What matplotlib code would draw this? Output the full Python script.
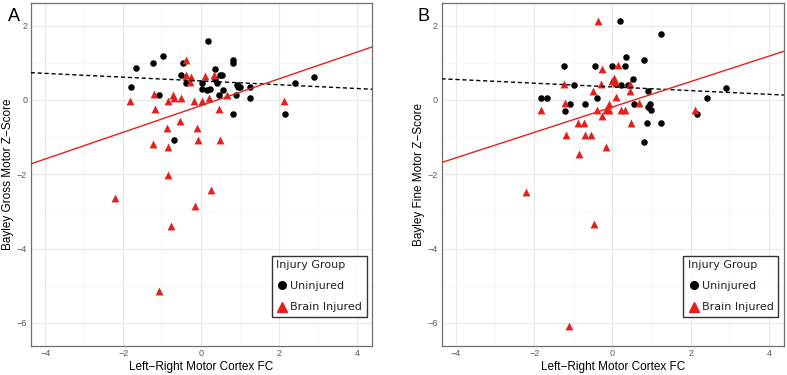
import numpy as np
import matplotlib.pyplot as plt
from matplotlib.lines import Line2D

# Panel A - gross motor
a_uninj_x = [-1.81, -1.68, -1.24, -0.98, -1.08, -0.46, -0.51, -0.39, 0.18, 0.01, 0.03, 0.14,
             0.22, 0.35, 0.35, 0.39, 0.48, 0.54, 0.45, 0.56, 0.80, 0.80, 0.91, 0.93, 1.00,
             0.88, 0.80, 1.25, 1.25, 2.15, 2.41, 2.90, -0.70]
a_uninj_y = [0.35, 0.87, 0.98, 1.18, 0.13, 0.98, 0.66, 0.46, 1.59, 0.46, 0.30, 0.27,
             0.30, 0.82, 0.55, 0.46, 0.66, 0.66, 0.13, 0.26, 1.08, 0.98, 0.39, 0.34, 0.34,
             0.13, -0.38, 0.35, 0.04, -0.38, 0.45, 0.61, -1.09]
a_inj_x = [-1.82, -1.21, -1.19, -0.86, -0.72, -0.70, -0.51, -0.38, -0.38, -0.30, -0.26, -0.19,
           0.02, 0.09, 0.33, 0.21, 0.67, 0.46, -0.54, -0.88, -0.10, -1.24, -0.84, -0.09,
           0.48, 2.11, -0.86, 0.26, -2.20, -0.15, -0.78, -1.09]
a_inj_y = [-0.04, 0.16, -0.25, -0.04, 0.14, 0.05, 0.06, 1.08, 0.68, 0.49, 0.61, -0.04,
           -0.04, 0.64, 0.66, 0.05, 0.14, -0.25, -0.56, -0.76, -0.76, -1.18, -1.27, -1.08,
           -1.08, -0.04, -2.01, -2.42, -2.64, -2.85, -3.38, -5.13]
a_fit_uninj = (-0.051, 0.51)   # slope, intercept
a_fit_inj = (0.36, -0.15)

# Panel B - fine motor
b_uninj_x = [0.19, 1.24, -1.25, -0.45, 0.00, 0.33, 0.34, 0.80, 0.01, 0.22, 0.39, 0.53,
             -0.99, -1.82, -1.67, -0.40, -1.22, -1.08, -0.69, 0.56, 0.91, 0.90, 0.96, 0.98,
             0.87, 1.25, 0.80, 2.16, 2.42, 2.91]
b_uninj_y = [2.11, 1.77, 0.91, 0.91, 0.91, 0.91, 1.16, 1.08, 0.49, 0.40, 0.40, 0.56,
             0.40, 0.06, 0.06, 0.06, -0.29, -0.12, -0.12, -0.12, 0.24, -0.18, -0.12, -0.27,
             -0.63, -0.63, -1.14, -0.38, 0.06, 0.31]
b_inj_x = [-0.38, -0.26, 0.13, 0.04, 0.00, 0.10, -0.30, -1.24, -0.51, 0.46, 0.46, 0.09,
           -0.10, 0.67, -1.21, -1.83, -0.40, -0.16, -0.10, 0.21, 0.33, -0.27, -0.88, -0.72,
           0.48, -1.18, -0.70, -0.55, -0.86, -0.16, 2.11, -2.20, -0.46, -1.10]
b_inj_y = [2.13, 0.84, 0.93, 0.58, 0.51, 0.45, 0.42, 0.42, 0.24, 0.42, 0.24, 0.07,
           -0.11, -0.09, -0.09, -0.27, -0.27, -0.27, -0.27, -0.27, -0.27, -0.44, -0.61, -0.61,
           -0.61, -0.94, -0.94, -0.94, -1.45, -1.28, -0.27, -2.49, -3.34, -6.08]
b_fit_uninj = (-0.050, 0.35)
b_fit_inj = (0.342, -0.19)

red = '#E3211C'
ticks = [-6, -4, -2, 0, 2]
xticks = [-4, -2, 0, 2, 4]

fig = plt.figure(figsize=(7.87, 3.75), dpi=100)


def panel(rect, ux, uy, ix, iy, fit_u, fit_i, ylab, letter, lx):
    ax = fig.add_axes(rect)
    ax.set_xlim(-4.37, 4.38)
    ax.set_ylim(-6.62, 2.61)
    ax.set_xticks(xticks)
    ax.set_yticks(ticks)
    ax.set_xticks([-3, -1, 1, 3], minor=True)
    ax.set_yticks([-5, -3, -1, 1], minor=True)
    ax.grid(which='major', color='#E8E8E8', lw=0.8)
    ax.grid(which='minor', color='#F3F3F3', lw=0.5)
    ax.set_axisbelow(True)
    for s in ax.spines.values():
        s.set_color('#6E6E6E')
        s.set_linewidth(0.9)
    ax.tick_params(which='both', length=0, labelsize=6.5, labelcolor='#555555', pad=2.5)
    ax.set_yticklabels([str(t).replace('-', '\u2212') for t in ticks], family='Liberation Sans')
    ax.set_xticklabels([str(t).replace('-', '\u2212') for t in xticks], family='Liberation Sans')

    ax.scatter(ux, uy, s=22, marker='o', color='black', zorder=3, linewidths=0)
    ax.scatter(ix, iy, s=32, marker='^', color=red, zorder=3, linewidths=0)
    ax.axline((0, fit_u[1]), slope=fit_u[0], color='black', ls=(0, (3, 2)), lw=1.0, zorder=4)
    ax.axline((0, fit_i[1]), slope=fit_i[0], color=red, lw=1.0, zorder=4)

    ax.set_xlabel('Left\u2212Right Motor Cortex FC', fontsize=8.5, family='Liberation Sans', labelpad=2)
    ax.set_ylabel(ylab, fontsize=8.5, family='Liberation Sans', va='center')
    ax.yaxis.set_label_coords(-0.066, 0.5)

    handles = [Line2D([], [], marker='o', color='black', ls='', ms=5.5),
               Line2D([], [], marker='^', color=red, ls='', ms=6.5)]
    leg = ax.legend(handles, ['Uninjured', 'Brain Injured'], title='Injury Group',
                    loc='lower right', bbox_to_anchor=(0.984, 0.085), borderaxespad=0,
                    frameon=True, fancybox=False, edgecolor='black',
                    handletextpad=0.2, handlelength=1.1, borderpad=0.4, labelspacing=1.0,
                    prop={'family': 'DejaVu Sans', 'size': 8},
                    title_fontproperties={'family': 'DejaVu Sans', 'size': 8})
    leg.get_frame().set_linewidth(1.0)
    leg._legend_box.align = 'left'
    leg.get_title().set_color('#222222')
    for t in leg.get_texts():
        t.set_color('#222222')
    fig.text(lx, 0.955, letter, fontsize=13, family='Liberation Sans', ha='left', va='center')
    return ax


panel([0.039, 0.0773, 0.434, 0.915], a_uninj_x, a_uninj_y, a_inj_x, a_inj_y,
      a_fit_uninj, a_fit_inj, 'Bayley Gross Motor Z\u2212Score', 'A', 0.010)
panel([0.561, 0.0773, 0.435, 0.915], b_uninj_x, b_uninj_y, b_inj_x, b_inj_y,
      b_fit_uninj, b_fit_inj, 'Bayley Fine Motor Z\u2212Score', 'B', 0.531)

fig.savefig('out.png', dpi=100)
